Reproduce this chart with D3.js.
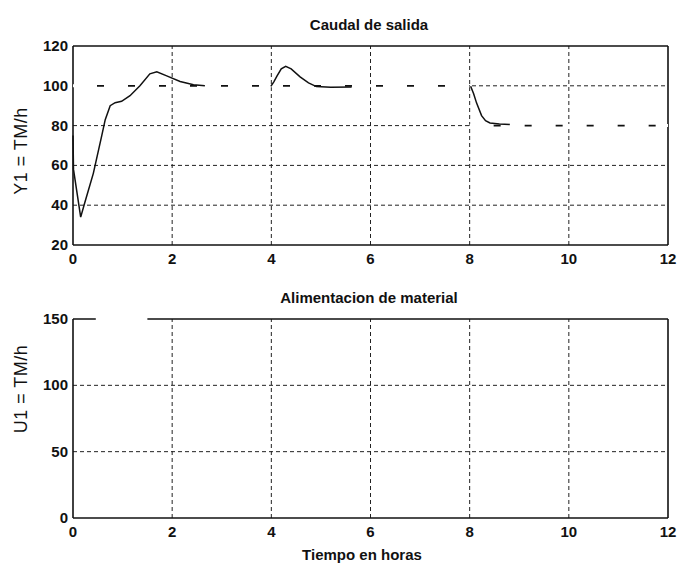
<!DOCTYPE html>
<html>
<head>
<meta charset="utf-8">
<script src="https://cdn.jsdelivr.net/npm/d3@7"></script>
<style>
  body { margin: 0; background: #fff; }
  svg { display: block; font-family: "Liberation Sans", Arial, sans-serif; }
  .grid line { stroke: #222; stroke-width: 1; stroke-dasharray: 4,3; }
  .tick-label { font-size: 15px; font-weight: bold; fill: #111; }
  .title { font-size: 15px; font-weight: bold; fill: #111; }
</style>
</head>
<body>
<script>
// Caudal de salida (Y1), NaN separates the plotted pieces
const y1Time = [0, 0.01, 0.155, 0.24, 0.41, 0.58, 0.65, 0.75, 0.85, 0.98, 1.15, 1.35, 1.55, 1.69, 1.89, 2.16, 2.43, 2.66,
  NaN, 3.99, 4.05, 4.11, 4.2, 4.29, 4.4, 4.58, 4.75, 4.91, 5.2, 5.62,
  NaN, 8.02, 8.08, 8.14, 8.24, 8.32, 8.41, 8.6, 8.81];
const y1Value = [75, 58, 34, 41.5, 56, 75, 83, 90, 91.5, 92.2, 95, 100, 106, 107, 105, 102.2, 100.5, 100,
  NaN, 99.7, 102, 104.7, 108.5, 109.8, 108.5, 104.5, 101.5, 99.6, 99.3, 99.4,
  NaN, 99.8, 96, 91.3, 85, 82.5, 81.3, 80.8, 80.6];

// referencia (setpoint)
const spTime = [0, 8, NaN, 8, 12];
const spValue = [100, 100, NaN, 80, 80];

// Alimentacion de material (U1)
const u1Time = [0, 0.46, NaN, 1.5, 12];
const u1Value = [150, 150, NaN, 150, 150];

const xTicks = [0, 2, 4, 6, 8, 10, 12];
const y1Ticks = [20, 40, 60, 80, 100, 120];
const u1Ticks = [0, 50, 100, 150];

const svg = d3.select('body').append('svg')
  .attr('width', 678)
  .attr('height', 563);

const x = d3.scaleLinear().domain([0, 12]).range([73, 668]);
const yTop = d3.scaleLinear().domain([20, 120]).range([245, 46]);
const yBot = d3.scaleLinear().domain([0, 150]).range([518, 319]);

function zip(ts, vs) {
  return ts.map((t, i) => [t, vs[i]]);
}

function panel(y, yTicks, opts) {
  const g = svg.append('g');
  const [y0, y1] = y.range();

  // grid
  const grid = g.append('g').attr('class', 'grid');
  grid.selectAll('.vx')
    .data(xTicks.slice(1, -1))
    .enter().append('line')
      .attr('x1', d => x(d)).attr('x2', d => x(d))
      .attr('y1', y0).attr('y2', y1);
  grid.selectAll('.hy')
    .data(yTicks.slice(1, -1))
    .enter().append('line')
      .attr('x1', x(0)).attr('x2', x(12))
      .attr('y1', d => y(d)).attr('y2', d => y(d));

  // frame
  const frame = g.append('g')
    .attr('stroke', '#111')
    .attr('stroke-width', 1.6)
    .attr('fill', 'none');
  frame.append('line').attr('x1', x(0)).attr('x2', x(0)).attr('y1', y0).attr('y2', y1);
  frame.append('line').attr('x1', x(12)).attr('x2', x(12)).attr('y1', y0).attr('y2', y1);
  frame.append('line').attr('x1', x(0)).attr('x2', x(12)).attr('y1', y0).attr('y2', y0);
  if (opts.topBorder) {
    frame.append('line').attr('x1', x(0)).attr('x2', x(12)).attr('y1', y1).attr('y2', y1);
  }

  // tick labels
  g.selectAll('.ylab')
    .data(yTicks)
    .enter().append('text')
      .attr('class', 'tick-label')
      .attr('x', x(0) - 5)
      .attr('y', d => y(d) + 5)
      .attr('text-anchor', 'end')
      .text(d => d);
  g.selectAll('.xlab')
    .data(xTicks)
    .enter().append('text')
      .attr('class', 'tick-label')
      .attr('x', d => x(d))
      .attr('y', y0 + 19)
      .attr('text-anchor', 'middle')
      .text(d => d);

  // title and y label
  g.append('text')
    .attr('class', 'title')
    .attr('x', 369)
    .attr('y', opts.titleY)
    .attr('text-anchor', 'middle')
    .text(opts.title);
  g.append('text')
    .attr('class', 'title')
    .attr('transform', `translate(27,${opts.labelY}) rotate(-90)`)
    .attr('text-anchor', 'middle')
    .style('font-weight', 'normal')
    .style('font-size', '18px')
    .style('letter-spacing', '0.5px')
    .text(opts.ylabel);

  return g;
}

const topPanel = panel(yTop, y1Ticks, {
  title: 'Caudal de salida', titleY: 30, ylabel: 'Y1 = TM/h', labelY: 151, topBorder: true
});
const botPanel = panel(yBot, u1Ticks, {
  title: 'Alimentacion de material', titleY: 303, ylabel: 'U1 = TM/h', labelY: 389, topBorder: false
});

const lineTop = d3.line()
  .defined(d => !isNaN(d[0]) && !isNaN(d[1]))
  .x(d => x(d[0]))
  .y(d => yTop(d[1]));
const lineBot = d3.line()
  .defined(d => !isNaN(d[0]) && !isNaN(d[1]))
  .x(d => x(d[0]))
  .y(d => yBot(d[1]));

// setpoint: white underlay hides the grid, then long dashes
topPanel.append('path')
  .attr('d', lineTop(zip(spTime, spValue)))
  .attr('fill', 'none')
  .attr('stroke', '#fff')
  .attr('stroke-width', 3);
topPanel.append('path')
  .attr('d', lineTop(zip(spTime, spValue)))
  .attr('fill', 'none')
  .attr('stroke', '#111')
  .attr('stroke-width', 1.8)
  .attr('stroke-dasharray', '7,24')
  .attr('stroke-dashoffset', 7);

topPanel.append('path')
  .attr('d', lineTop(zip(y1Time, y1Value)))
  .attr('fill', 'none')
  .attr('stroke', '#111')
  .attr('stroke-width', 1.5);

botPanel.append('path')
  .attr('d', lineBot(zip(u1Time, u1Value)))
  .attr('fill', 'none')
  .attr('stroke', '#111')
  .attr('stroke-width', 1.6);

svg.append('text')
  .attr('class', 'title')
  .attr('x', 362)
  .attr('y', 560)
  .attr('text-anchor', 'middle')
  .text('Tiempo en horas');
</script>
</body>
</html>
